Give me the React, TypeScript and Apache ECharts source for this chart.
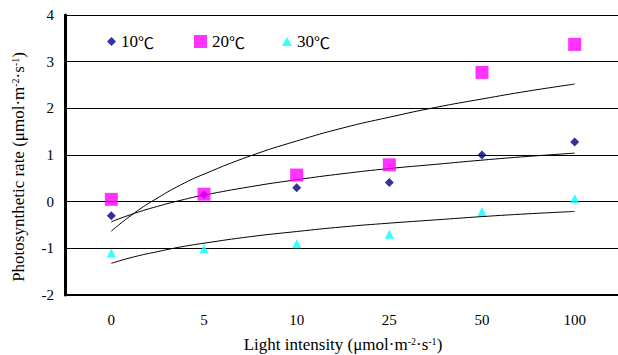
import React, { useEffect, useRef } from "react";
import * as echarts from "echarts";

const categories = ["0", "5", "10", "25", "50", "100"];
const s10 = [-0.3, 0.15, 0.3, 0.41, 1.0, 1.28];
const s20 = [0.05, 0.16, 0.57, 0.79, 2.77, 3.37];
const s30 = [-1.1, -1.01, -0.9, -0.7, -0.21, 0.07];

// trendline readings (category index position -> value)
const trendX = [0, 0.25, 0.5, 0.75, 1, 1.5, 2, 2.5, 3, 3.5, 4, 4.5, 5];
const trend20 = [-0.63, -0.24, 0.08, 0.36, 0.59, 0.98, 1.3, 1.58, 1.81, 2.02, 2.2, 2.37, 2.52];
const trend10 = [-0.43, -0.25, -0.1, 0.03, 0.14, 0.32, 0.47, 0.6, 0.71, 0.8, 0.89, 0.97, 1.04];
const trend30 = [-1.32, -1.18, -1.07, -0.97, -0.89, -0.75, -0.64, -0.54, -0.46, -0.39, -0.32, -0.26, -0.21];

const FONT = "'Liberation Serif', 'Times New Roman', serif";

export default function App() {
  const ref = useRef<HTMLDivElement>(null);
  useEffect(() => {
    if (!ref.current) return;
    const chart = echarts.init(ref.current, undefined, { renderer: "svg" });
    const sup = { fontSize: 10, fontFamily: FONT, color: "#000", verticalAlign: "top", lineHeight: 10 };
    const legendBase = {
      orient: "horizontal",
      padding: 0,
      top: 33,
      textStyle: {
        fontFamily: FONT,
        fontSize: 17,
        color: "#000",
        rich: { c: { fontFamily: "'Noto Sans CJK SC', sans-serif", fontSize: 16, color: "#000" } },
      },
      formatter: (name: string) => name.replace("℃", "{c|℃}"),
      selectedMode: false,
    };
    const trendSeries = (data: number[]) => ({
      type: "line",
      xAxisIndex: 1,
      data: trendX.map((x, i) => [x, data[i]]),
      smooth: true,
      showSymbol: false,
      symbol: "none",
      lineStyle: { color: "#000", width: 1 },
      silent: true,
      z: 1,
    });
    chart.setOption({
      animation: false,
      backgroundColor: "#fff",
      grid: {
        left: 65,
        top: 15,
        width: 556,
        height: 280,
        containLabel: false,
        outerBoundsMode: "none",
      },
      legend: [
        { ...legendBase, left: 107, itemWidth: 9, itemHeight: 9, icon: "diamond", data: ["10℃"] },
        { ...legendBase, left: 194, itemWidth: 13, itemHeight: 13, icon: "rect", data: ["20℃"] },
        { ...legendBase, left: 282, itemWidth: 10, itemHeight: 9, icon: "triangle", data: ["30℃"] },
      ],
      xAxis: [
        {
          type: "category",
          data: categories,
          boundaryGap: true,
          axisLine: { onZero: false, lineStyle: { color: "#000", width: 2 } },
          axisTick: { inside: true, length: 4, lineStyle: { color: "#000" } },
          axisLabel: { fontFamily: FONT, fontSize: 15, color: "#000", margin: 17 },
          name: "Light intensity (μmol·m{sup|-2}·s{sup|-1})",
          nameLocation: "middle",
          nameGap: 41,
          nameTextStyle: { fontFamily: FONT, fontSize: 17, color: "#000", lineHeight: 17, rich: { sup } },
        },
        {
          type: "value",
          min: -0.5,
          max: 5.5,
          show: false,
          axisLine: { onZero: false },
        },
      ],
      yAxis: {
        type: "value",
        position: "left",
        min: -2,
        max: 4,
        interval: 1,
        axisLine: { show: true, onZero: false, lineStyle: { color: "#000", width: 3 } },
        axisTick: { show: false },
        splitLine: { show: true, lineStyle: { color: "#000", width: 1 } },
        axisLabel: { fontFamily: FONT, fontSize: 15, color: "#000", margin: 11 },
        name: "Photosynthetic rate (μmol·m{sup|-2}·s{sup|-1})",
        nameLocation: "middle",
        nameRotate: 90,
        nameGap: 38,
        nameTextStyle: {
          fontFamily: FONT,
          fontSize: 17,
          color: "#000",
          lineHeight: 17,
          padding: [0, 24, 0, 0],
          rich: { sup },
        },
      },
      series: [
        trendSeries(trend20),
        trendSeries(trend10),
        trendSeries(trend30),
        {
          name: "10℃",
          type: "scatter",
          data: s10,
          symbol: "diamond",
          symbolSize: 9,
          itemStyle: { color: "#000080" },
          z: 3,
        },
        {
          name: "20℃",
          type: "scatter",
          data: s20,
          symbol: "rect",
          symbolSize: 13,
          itemStyle: { color: "#FF00FF" },
          z: 4,
        },
        {
          name: "30℃",
          type: "scatter",
          data: s30,
          symbol: "triangle",
          symbolSize: 9,
          itemStyle: { color: "#00FFFF" },
          z: 3,
        },
      ],
    });
    return () => chart.dispose();
  }, []);
  return (
    <div
      ref={ref}
      style={{ position: "fixed", left: 0, top: 0, width: 618, height: 355, overflow: "hidden" }}
    />
  );
}
